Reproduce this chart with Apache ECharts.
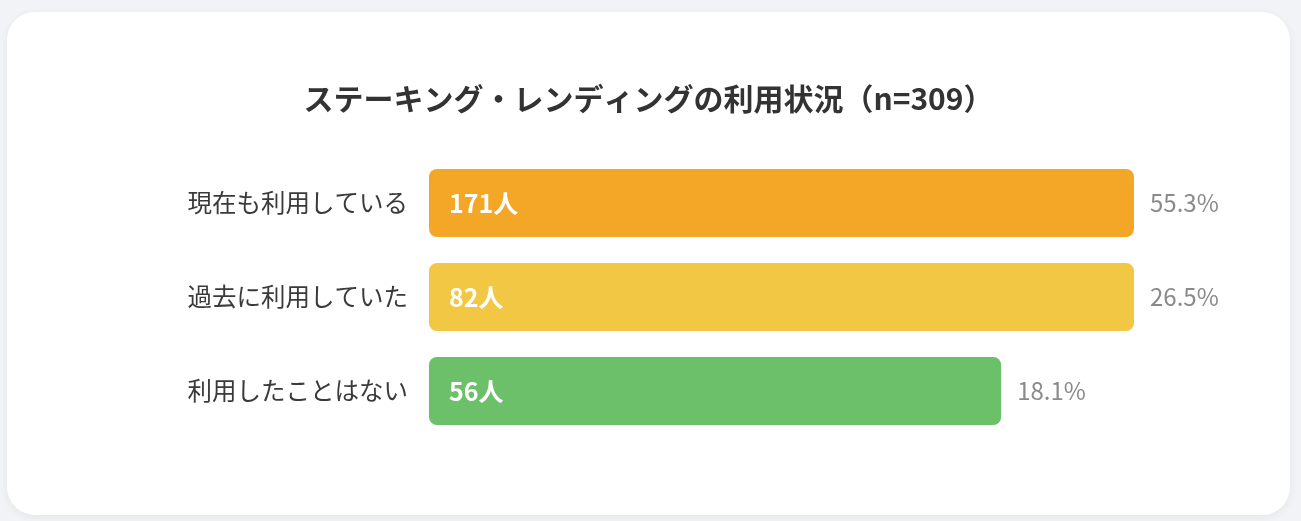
<!DOCTYPE html>
<html lang="ja">
<head>
<meta charset="UTF-8">
<title>ステーキング・レンディングの利用状況</title>
<script src="https://cdn.jsdelivr.net/npm/echarts@6/dist/echarts.min.js"></script>
<style>
  html, body { margin: 0; padding: 0; background: #f2f3f7; }
  #card {
    position: absolute; left: 7px; top: 12px; width: 1283px; height: 503px;
    background: #fff; border-radius: 28px;
    box-shadow: 0 2px 10px rgba(0, 0, 0, 0.06);
    overflow: hidden;
  }
  #chart { width: 1283px; height: 503px; }
</style>
</head>
<body>
<div id="card"><div id="chart"></div></div>
<script>
  // データ
  const categories = ['現在も利用している', '過去に利用していた', '利用したことはない'];
  const counts = [171, 82, 56];
  const percents = [55.3, 26.5, 18.1];
  const colors = ['#f4a626', '#f2c744', '#6cc06a'];

  const font = '"Noto Sans CJK JP", "Noto Sans", sans-serif';

  let chart = echarts.init(document.getElementById('chart'));
  let option = {
    animation: false,
    title: {
      text: 'ステーキング・レンディングの利用状況（n=309）',
      left: 'center',
      top: 67,
      textStyle: { fontFamily: font, fontSize: 30, fontWeight: 'bold', color: '#333' }
    },
    grid: { left: 422, right: 156, top: 144, height: 282 },
    xAxis: {
      type: 'value',
      min: 0,
      max: 69, // 元図ではバーの長さが上限で頭打ち
      show: false
    },
    yAxis: {
      type: 'category',
      inverse: true,
      data: categories,
      axisLine: { show: false },
      axisTick: { show: false },
      axisLabel: { margin: 21, fontFamily: font, fontSize: 24.5, color: '#3a3a3a', padding: [8, 0, 0, 0] }
    },
    series: [{
      type: 'bar',
      clip: true,
      barCategoryGap: '27.7%',
      data: counts.map((v, i) => ({ value: v, itemStyle: { color: colors[i] } })),
      itemStyle: { borderRadius: 8 },
      label: {
        show: true,
        position: 'insideLeft',
        distance: 20,
        formatter: p => p.value + '人',
        fontFamily: font, fontSize: 25, fontWeight: 'bold', color: '#fff',
        padding: [8, 0, 0, 0]
      }
    }, {
      // 割合ラベル用（透明）
      type: 'bar',
      clip: true,
      barGap: '-100%',
      barCategoryGap: '27.7%',
      silent: true,
      data: counts,
      itemStyle: { color: 'rgba(0,0,0,0)' },
      label: {
        show: true,
        position: 'right',
        distance: 16,
        formatter: p => percents[p.dataIndex].toFixed(1) + '%',
        fontFamily: font, fontSize: 24, color: '#8a8a8a',
        padding: [8, 0, 0, 0]
      }
    }]
  };
  chart.setOption(option);
</script>
</body>
</html>
